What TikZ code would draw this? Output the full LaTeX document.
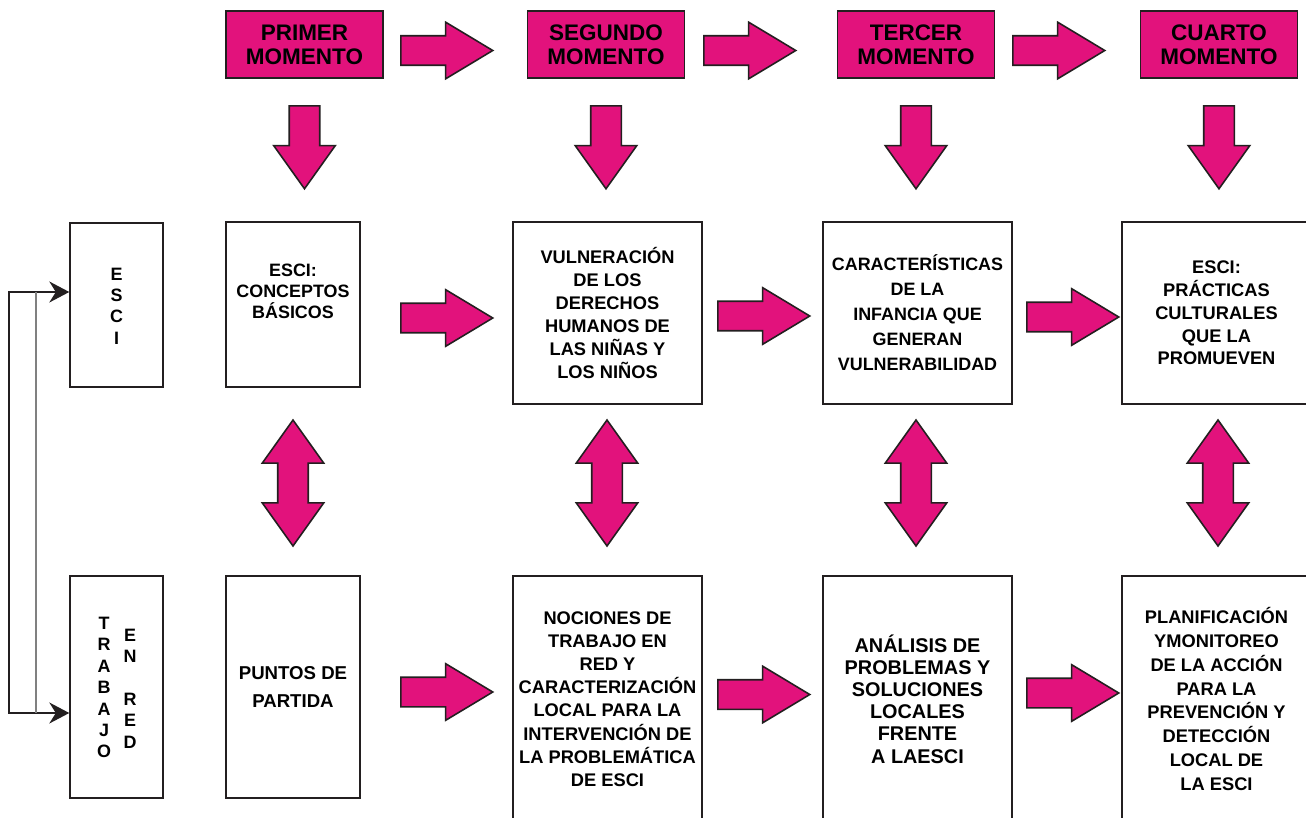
\documentclass[tikz,border=0pt]{standalone}
\usepackage{fontspec}
\setmainfont{Liberation Sans}
\usetikzlibrary{shapes.arrows,arrows.meta}

\definecolor{rosa}{RGB}{226,18,124}
\definecolor{borde}{RGB}{35,31,32}

\begin{document}
\begin{tikzpicture}[x=0.02cm,y=-0.02cm,
    caja/.style={draw=borde, line width=0.8pt, align=center, inner sep=0pt,
        font=\bfseries\fontsize{10.4}{13}\selectfont},
    texto/.style={align=center, inner sep=0pt, font=\bfseries\fontsize{10.4}{13}\selectfont},
    letras/.style={align=center, inner sep=0pt, font=\bfseries\fontsize{10.2}{12.2}\selectfont},
    momento/.style={caja, fill=rosa, minimum width=3.14cm, minimum height=1.34cm,
        font=\bfseries\fontsize{12.8}{13.6}\selectfont},
    flecha/.style={single arrow, draw=borde, line width=0.9pt, fill=rosa, anchor=tail,
        inner xsep=0pt, inner ysep=0.28cm,
        minimum height=1.84cm, minimum width=1.1cm,
        single arrow head extend=0.27cm, single arrow tip angle=62},
    bajada/.style={single arrow, draw=borde, line width=0.9pt, fill=rosa, anchor=tail,
        inner xsep=0pt, inner ysep=0.29cm,
        minimum height=1.66cm, minimum width=1.2cm,
        single arrow head extend=0.31cm, single arrow tip angle=71, rotate=-90},
    doble/.style={double arrow, draw=borde, line width=0.9pt, fill=rosa,
        inner xsep=0pt, inner ysep=0.29cm,
        minimum height=2.52cm, minimum width=1.2cm,
        double arrow head extend=0.31cm, double arrow tip angle=71, rotate=90}]

\useasboundingbox (0,0) rectangle (1306,818);

% Moments
\node[momento] (m1) at (304.5,44.5) {PRIMER\\MOMENTO};
\node[momento] (m2) at (606,44.5) {SEGUNDO\\MOMENTO};
\node[momento] (m3) at (916,44.5) {TERCER\\MOMENTO};
\node[momento] (m4) at (1219,44.5) {CUARTO\\MOMENTO};

\node[flecha] (f1) at (400,50.5) {};
\node[flecha] (f2) at (703,50.5) {};
\node[flecha] (f3) at (1012,50.5) {};

\node[bajada] (d1) at (304.5,105) {};
\node[bajada] (d2) at (606,105) {};
\node[bajada] (d3) at (916,105) {};
\node[bajada] (d4) at (1219,105) {};

% ESCI row
\node[caja, minimum width=1.86cm, minimum height=3.28cm] (esci) at (116.5,305) {};
\node[letras] (esci-t) at (116.5,306) {E\\S\\C\\I};

\node[caja, minimum width=2.68cm, minimum height=3.3cm] (b1) at (293,304.5) {};
\node[texto, font=\bfseries\fontsize{10.2}{11.9}\selectfont] (b1-t) at (293,291)
    {ESCI:\\CONCEPTOS\\BÁSICOS};
\node[caja, minimum width=3.78cm, minimum height=3.64cm] (b2) at (607.5,313)
    {VULNERACIÓN\\DE LOS\\DERECHOS\\HUMANOS DE\\LAS NIÑAS Y\\LOS NIÑOS};
\node[caja, minimum width=3.78cm, minimum height=3.64cm,
    font=\bfseries\fontsize{10.2}{14.2}\selectfont] (b3) at (917.5,313)
    {CARACTERÍSTICAS\\DE LA\\INFANCIA QUE\\GENERAN\\VULNERABILIDAD};
\node[caja, minimum width=3.78cm, minimum height=3.64cm] (b4) at (1216.5,313)
    {ESCI:\\PRÁCTICAS\\CULTURALES\\QUE LA\\PROMUEVEN};

\node[flecha] (g1) at (400,318) {};
\node[flecha] (g2) at (717,316) {};
\node[flecha] (g3) at (1026,317) {};

% Double arrows
\node[doble] (v1) at (293,483) {};
\node[doble] (v2) at (607,483) {};
\node[doble] (v3) at (916,483) {};
\node[doble] (v4) at (1218,483) {};

% Network row
\node[caja, minimum width=1.86cm, minimum height=4.44cm] (trabajo) at (116.5,687) {};
\node[letras] (trabajo-t) at (104,687.5) {T\\R\\A\\B\\A\\J\\O};
\node[letras] (red-t) at (130,688.5) {E\\N\\\mbox{}\\R\\E\\D};

\node[caja, minimum width=2.68cm, minimum height=4.44cm,
    font=\bfseries\fontsize{10.6}{16.4}\selectfont] (c1) at (293,687)
    {PUNTOS DE\\PARTIDA};
\node[caja, minimum width=3.78cm, minimum height=4.92cm,
    font=\bfseries\fontsize{10.4}{13.2}\selectfont] (c2) at (607.5,699)
    {NOCIONES DE\\TRABAJO EN\\RED Y\\CARACTERIZACIÓN\\LOCAL PARA LA\\INTERVENCIÓN DE\\LA PROBLEMÁTICA\\DE ESCI};
\node[caja, minimum width=3.78cm, minimum height=4.92cm,
    font=\bfseries\fontsize{11.3}{12.6}\selectfont] (c3) at (917.5,699)
    {ANÁLISIS DE\\PROBLEMAS Y\\SOLUCIONES\\LOCALES\\FRENTE\\A LAESCI};
\node[caja, minimum width=3.78cm, minimum height=4.92cm,
    font=\bfseries\fontsize{10.4}{13.5}\selectfont] (c4) at (1216.5,699)
    {PLANIFICACIÓN\\YMONITOREO\\DE LA ACCIÓN\\PARA LA\\PREVENCIÓN Y\\DETECCIÓN\\LOCAL DE\\LA ESCI};

\node[flecha] (h1) at (400,692) {};
\node[flecha] (h2) at (717,694.5) {};
\node[flecha] (h3) at (1026,693) {};

% Loop between ESCI and TRABAJO EN RED
\coordinate (ini) at (esci.west |- 0,292);
\coordinate (fin) at (trabajo.west |- 0,713);
\draw[borde, line width=1pt, {Stealth[length=0.4cm,width=0.42cm]}-{Stealth[length=0.4cm,width=0.42cm]}]
    (ini) -| (9,713) -- (fin);
\draw[gray, line width=0.6pt] (ini -| 36,0) -- (fin -| 36,0);

\end{tikzpicture}
\end{document}
